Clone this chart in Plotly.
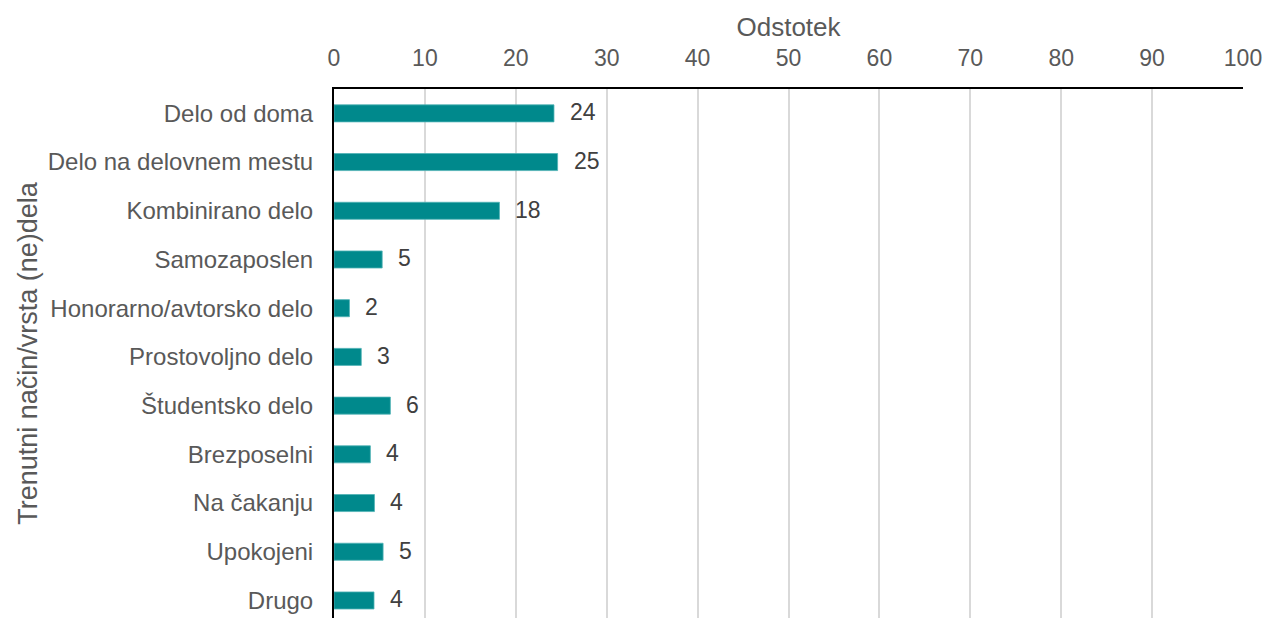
import plotly.graph_objects as go

# Survey shares by current mode/type of (non)work, in percent
categories = [
    "Delo od doma",
    "Delo na delovnem mestu",
    "Kombinirano delo",
    "Samozaposlen",
    "Honorarno/avtorsko delo",
    "Prostovoljno delo",
    "Študentsko delo",
    "Brezposelni",
    "Na čakanju",
    "Upokojeni",
    "Drugo",
]
percent = [24.2, 24.6, 18.2, 5.3, 1.7, 3.0, 6.2, 4.0, 4.45, 5.4, 4.4]
x_ticks = [0, 10, 20, 30, 40, 50, 60, 70, 80, 90, 100]

FONT = "Liberation Sans, Arial, sans-serif"
BAR_COLOR = "#00898C"

fig = go.Figure()
fig.add_trace(go.Bar(
    x=percent,
    y=categories,
    orientation="h",
    width=0.35,
    marker=dict(color=BAR_COLOR, line=dict(color="#4FB3B5", width=0.8)),
    hoverinfo="x+y",
))

# Rounded value labels just past the end of each bar
for cat, val in zip(categories, percent):
    fig.add_annotation(
        x=val, y=cat, xref="x", yref="y",
        text=f"{val:.0f}", showarrow=False,
        xanchor="left", yanchor="middle", xshift=14, yshift=1,
        font=dict(family=FONT, size=23, color="#404040"),
    )

fig.update_layout(
    width=1265, height=618,
    margin=dict(l=334, r=22, t=89, b=0),
    paper_bgcolor="white", plot_bgcolor="white",
    showlegend=False,
    font=dict(family=FONT, color="#595959"),
    xaxis=dict(
        side="top",
        range=[0, 100],
        tickvals=x_ticks,
        ticktext=[str(v) for v in x_ticks],
        tickfont=dict(size=23, color="#595959"),
        ticklabelstandoff=12,
        showgrid=True, gridcolor="#D9D9D9", gridwidth=2,
        showline=True, linecolor="black", linewidth=2,
        zeroline=False,
        ticks="",
        title=dict(text="Odstotek", font=dict(size=26, color="#595959"), standoff=1),
        fixedrange=True,
    ),
    yaxis=dict(
        type="category",
        categoryorder="array",
        categoryarray=categories,
        range=[10.36, -0.5],
        tickfont=dict(size=24, color="#595959"),
        ticklabelstandoff=14,
        showgrid=False,
        showline=True, linecolor="black", linewidth=2,
        ticks="",
        title=dict(text="Trenutni način/vrsta (ne)dela",
                   font=dict(size=27, color="#595959"), standoff=2),
        fixedrange=True,
    ),
    bargap=0.65,
)

fig.write_html("out.html")
